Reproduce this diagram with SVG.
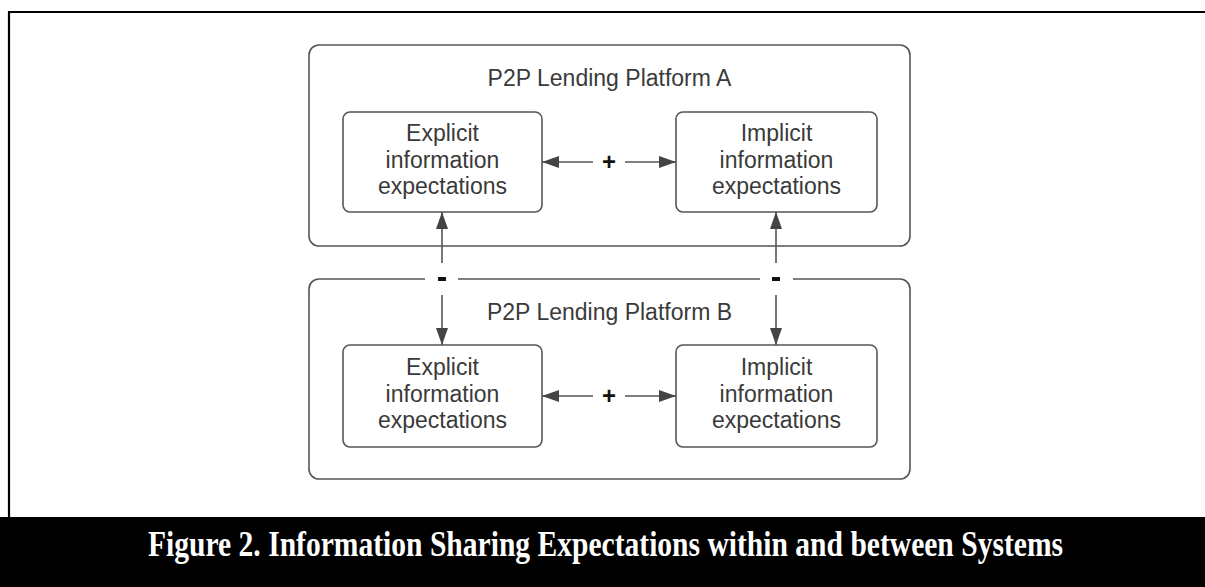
<svg xmlns="http://www.w3.org/2000/svg" width="1205" height="587" viewBox="0 0 1205 587">
<style>
.outer{fill:#fff;stroke:#555;stroke-width:1.6}
.inner{fill:#fff;stroke:#555;stroke-width:1.6}
.t{font-family:"Liberation Sans",Arial,sans-serif;font-size:23px;fill:#3a3a3a;text-anchor:middle}
.c{stroke:#555;stroke-width:1.6;fill:none}
.sym{font-family:"Liberation Sans",Arial,sans-serif;font-size:24px;font-weight:bold;fill:#111;text-anchor:middle}
.cap{font-family:"Liberation Serif","Times New Roman",serif;font-size:30px;font-weight:bold;fill:#fff;text-anchor:middle}
</style>
<defs>
<marker id="ah" viewBox="0 0 17 12" refX="17" refY="6" markerWidth="17" markerHeight="12" markerUnits="userSpaceOnUse" orient="auto-start-reverse">
<path d="M0,0 L17,6 L0,12 Z" fill="#444"/>
</marker>
</defs>
<rect width="1205" height="587" fill="#fff"/>
<path d="M9,517 V12 H1205" fill="none" stroke="#000" stroke-width="2.2"/>
<g id="platformA">
<rect class="outer" x="309" y="45" width="601" height="201" rx="10"/>
<text class="t" x="609.5" y="86">P2P Lending Platform A</text>
</g>
<g id="platformB">
<rect class="outer" x="309" y="279" width="601" height="200" rx="10"/>
<text class="t" x="609.5" y="320">P2P Lending Platform B</text>
</g>
<g id="explicitA">
<rect class="inner" x="343" y="112" width="199" height="100" rx="7"/>
<text class="t" x="442.5" y="141">Explicit</text>
<text class="t" x="442.5" y="168">information</text>
<text class="t" x="442.5" y="194">expectations</text>
</g>
<g id="implicitA">
<rect class="inner" x="676" y="112" width="201" height="100" rx="7"/>
<text class="t" x="776.5" y="141">Implicit</text>
<text class="t" x="776.5" y="168">information</text>
<text class="t" x="776.5" y="194">expectations</text>
</g>
<g id="explicitB">
<rect class="inner" x="343" y="345" width="199" height="102" rx="7"/>
<text class="t" x="442.5" y="375">Explicit</text>
<text class="t" x="442.5" y="402">information</text>
<text class="t" x="442.5" y="428">expectations</text>
</g>
<g id="implicitB">
<rect class="inner" x="676" y="345" width="201" height="102" rx="7"/>
<text class="t" x="776.5" y="375">Implicit</text>
<text class="t" x="776.5" y="402">information</text>
<text class="t" x="776.5" y="428">expectations</text>
</g>
<g id="connectors">
<rect x="425" y="276" width="33" height="6" fill="#fff"/>
<rect x="760" y="276" width="33" height="6" fill="#fff"/>
<line class="c" x1="542" y1="162" x2="593" y2="162" marker-start="url(#ah)"/>
<line class="c" x1="625" y1="162" x2="676" y2="162" marker-end="url(#ah)"/>
<text class="sym" x="609" y="170">+</text>
<line class="c" x1="542" y1="396" x2="593" y2="396" marker-start="url(#ah)"/>
<line class="c" x1="625" y1="396" x2="676" y2="396" marker-end="url(#ah)"/>
<text class="sym" x="609" y="404">+</text>
<line class="c" x1="442" y1="263" x2="442" y2="212" marker-end="url(#ah)"/>
<line class="c" x1="442" y1="295" x2="442" y2="345" marker-end="url(#ah)"/>
<rect x="438" y="277" width="8" height="4" fill="#111"/>
<line class="c" x1="776" y1="263" x2="776" y2="212" marker-end="url(#ah)"/>
<line class="c" x1="776" y1="295" x2="776" y2="345" marker-end="url(#ah)"/>
<rect x="772" y="277" width="8" height="4" fill="#111"/>
</g>
<rect x="0" y="517" width="1205" height="70" fill="#000"/>
<text class="cap" transform="translate(605.5,556) scale(1,1.18)" x="0" y="0" textLength="915" lengthAdjust="spacingAndGlyphs">Figure 2. Information Sharing Expectations within and between Systems</text>
</svg>
